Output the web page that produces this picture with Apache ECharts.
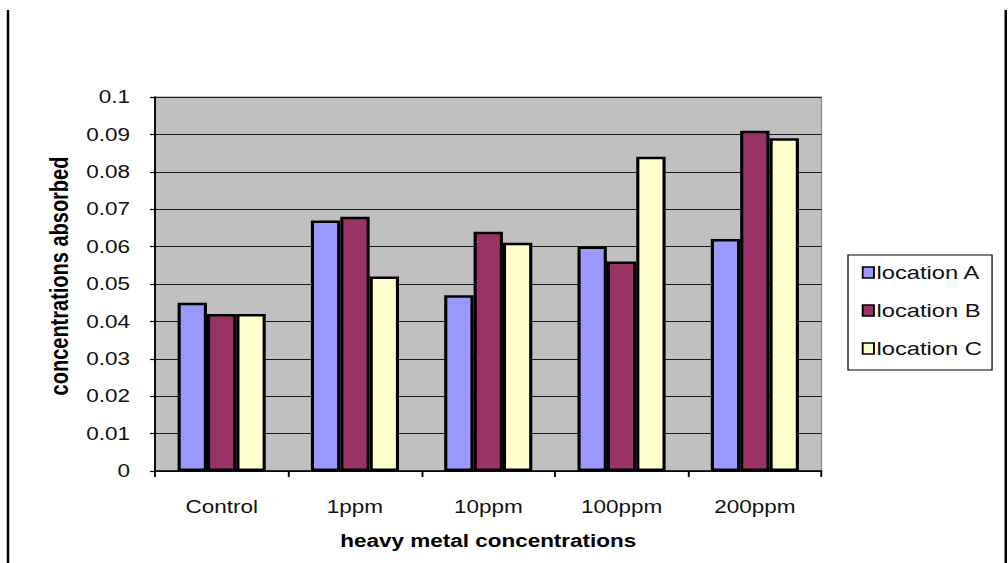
<!DOCTYPE html>
<html>
<head>
<meta charset="utf-8">
<script src="https://cdn.jsdelivr.net/npm/echarts@6/dist/echarts.min.js"></script>
<style>
  html, body { margin: 0; padding: 0; background: #fff; overflow: hidden; }
  /* chart is laid out narrower and widened horizontally, giving the stretched text look */
  #chart { width: 806.4px; height: 563px; transform: scaleX(1.25); transform-origin: 0 0; }
</style>
</head>
<body>
<div id="chart"></div>
<script>
const categories = ['Control', '1ppm', '10ppm', '100ppm', '200ppm'];
const locationA = [0.045, 0.067, 0.047, 0.060, 0.062];
const locationB = [0.042, 0.068, 0.064, 0.056, 0.091];
const locationC = [0.042, 0.052, 0.061, 0.084, 0.089];
const seriesNames = ['location A', 'location B', 'location C'];
const yTickLabels = ['0', '0.01', '0.02', '0.03', '0.04', '0.05', '0.06', '0.07', '0.08', '0.09', '0.1'];

const FONT = '"Liberation Sans", Arial, sans-serif';
const colors = ['#9999FF', '#993366', '#FFFFCC'];

const chart = echarts.init(document.getElementById('chart'), null, { renderer: 'svg' });

function barSeries(name, data, color) {
  return {
    name: name,
    type: 'bar',
    data: data,
    barWidth: 23.5,
    barGap: '0%',
    itemStyle: { color: color, borderColor: '#000', borderWidth: 2.5 },
    emphasis: { disabled: true },
    animation: false
  };
}

chart.setOption({
  animation: false,
  grid: {
    left: 124, right: 148.8, top: 97, bottom: 92,
    show: true, backgroundColor: '#C0C0C0', borderColor: '#8c8c8c', borderWidth: 1
  },
  legend: {
    orient: 'vertical',
    left: 678.4, top: 255,
    padding: [8, 8, 12, 11],
    itemGap: 19,
    itemWidth: 9, itemHeight: 11,
    icon: 'rect',
    itemStyle: { borderColor: '#000', borderWidth: 1.5 },
    borderColor: '#000', borderWidth: 1,
    backgroundColor: '#fff',
    textStyle: { fontFamily: FONT, fontSize: 19, color: '#111', padding: [0, 0, 0, -3] },
    data: seriesNames,
    selectedMode: false
  },
  xAxis: {
    type: 'category',
    data: categories,
    name: 'heavy metal concentrations',
    nameLocation: 'middle',
    nameGap: 61,
    nameTextStyle: { fontFamily: FONT, fontWeight: 'bold', fontSize: 18, color: '#000' },
    axisLine: { lineStyle: { color: '#000', width: 1.5 } },
    axisTick: { show: true, length: 6, lineStyle: { color: '#000', width: 1.5 } },
    axisLabel: { fontFamily: FONT, fontSize: 18, color: '#111', margin: 27 },
    splitLine: { show: false }
  },
  yAxis: {
    type: 'value',
    min: 0, max: 0.1, interval: 0.01,
    name: 'concentrations absorbed',
    nameLocation: 'middle',
    nameRotate: 90,
    nameGap: 62,
    nameTextStyle: { fontFamily: FONT, fontWeight: 'bold', fontSize: 20, color: '#000', padding: [0, 0, 0, 16] },
    axisLine: { show: true, lineStyle: { color: '#000', width: 1.5 } },
    axisTick: { show: true, length: 4, lineStyle: { color: '#000', width: 1.2 } },
    axisLabel: {
      fontFamily: FONT, fontSize: 18, color: '#111', margin: 20,
      formatter: function (v) { return yTickLabels[Math.round(v * 100)]; }
    },
    splitLine: { show: true, lineStyle: { color: '#1a1a1a', width: 1.2 } }
  },
  graphic: [
    { type: 'line', shape: { x1: 6.4, y1: 10, x2: 6.4, y2: 563 }, style: { stroke: '#000', lineWidth: 2 }, silent: true },
    { type: 'line', shape: { x1: 804.6, y1: 10, x2: 804.6, y2: 563 }, style: { stroke: '#000', lineWidth: 2 }, silent: true }
  ],
  series: [
    barSeries(seriesNames[0], locationA, colors[0]),
    barSeries(seriesNames[1], locationB, colors[1]),
    barSeries(seriesNames[2], locationC, colors[2])
  ]
});
</script>
</body>
</html>
